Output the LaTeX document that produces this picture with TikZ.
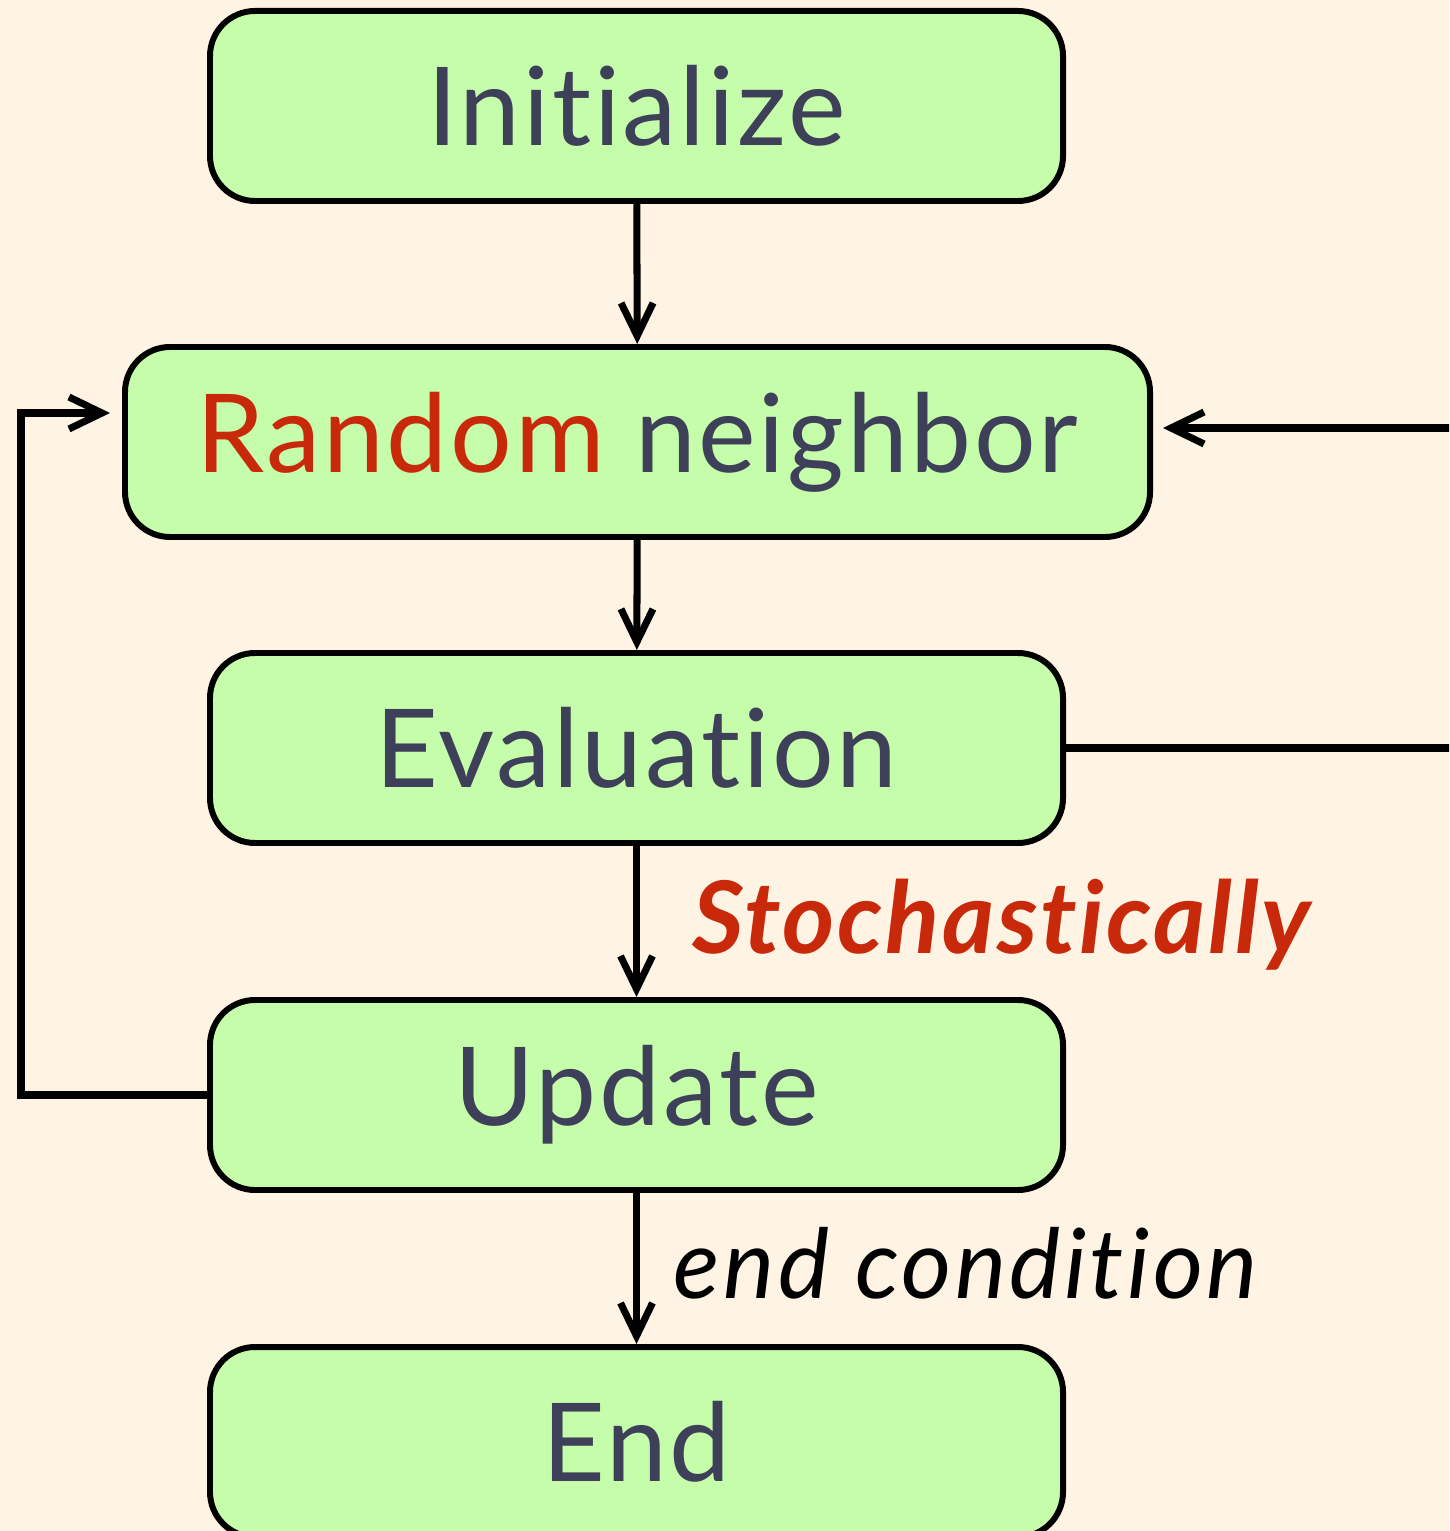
\documentclass[tikz,border=0pt]{standalone}
\usepackage{fontspec}
\setmainfont{Lato}[Ligatures=NoCommon,LetterSpace=2.5]
\usepackage{xcolor}
\usetikzlibrary{arrows.meta, positioning}
\definecolor{pagebg}{HTML}{FFF4E4}
\definecolor{boxgreen}{HTML}{C5FDAA}
\definecolor{inkslate}{HTML}{3E3F58}
\definecolor{hotred}{HTML}{C8290A}
\tikzset{
  stepbox/.style={draw=black,line width=1.7pt,rounded corners=4.5mm,fill=boxgreen,
    minimum height=1.9cm,text=inkslate,font=\fontsize{31}{31}\selectfont},
  flowedge/.style={-{Straight Barb[length=3.3mm,width=3.2mm,line width=2pt]},line width=2pt,black},
  edgelbl/.style={anchor=base west,inner sep=0pt},
}
\begin{document}
\begin{tikzpicture}
  \fill[pagebg] (0,0) rectangle (14.49,-15.31);
  \useasboundingbox (0,0) rectangle (14.49,-15.31);
  \clip (0,0) rectangle (14.49,-15.31);
  \node[stepbox,minimum width=8.53cm] (nInit) at (6.365,-1.06) {Initialize};
  \node[stepbox,minimum width=10.25cm] (nRand) at (6.375,-4.42) {\textcolor{hotred}{Random} neighbor};
  \node[stepbox,minimum width=8.53cm] (nEval) at (6.365,-7.48) {Evaluation};
  \node[stepbox,minimum width=8.53cm] (nUpd) at (6.365,-10.95) {Update};
  \node[stepbox,minimum width=8.53cm] (nEnd) at (6.365,-14.42) {End};
  \coordinate (inL) at ([xshift=-1.2mm,yshift=2.9mm]nRand.west);
  \coordinate (inR) at ([xshift=1.0mm,yshift=1.4mm]nRand.east);
  \draw[flowedge] (nInit) -- (nRand);
  \draw[flowedge] (nRand) -- (nEval);
  \draw[flowedge] (nEval) -- (nUpd);
  \draw[flowedge] (nUpd) -- (nEnd);
  % loop back from Update on the left, from Evaluation on the right
  \draw[flowedge] (nUpd.west) -- ++(-1.86,0) |- (inL);
  \draw[flowedge] (nEval.east) -- (15.0,-7.48) |- (inR);
  \node[edgelbl,text=hotred,font=\fontsize{28.5}{28}\selectfont\bfseries\itshape] (lStoch) at (6.92,-9.53) {Stochastically};
  \node[edgelbl,text=black,font=\fontsize{27.5}{26}\selectfont\itshape\addfontfeature{LetterSpace=3.5}] (lEndc) at (6.73,-12.98) {end condition};
\end{tikzpicture}
\end{document}
